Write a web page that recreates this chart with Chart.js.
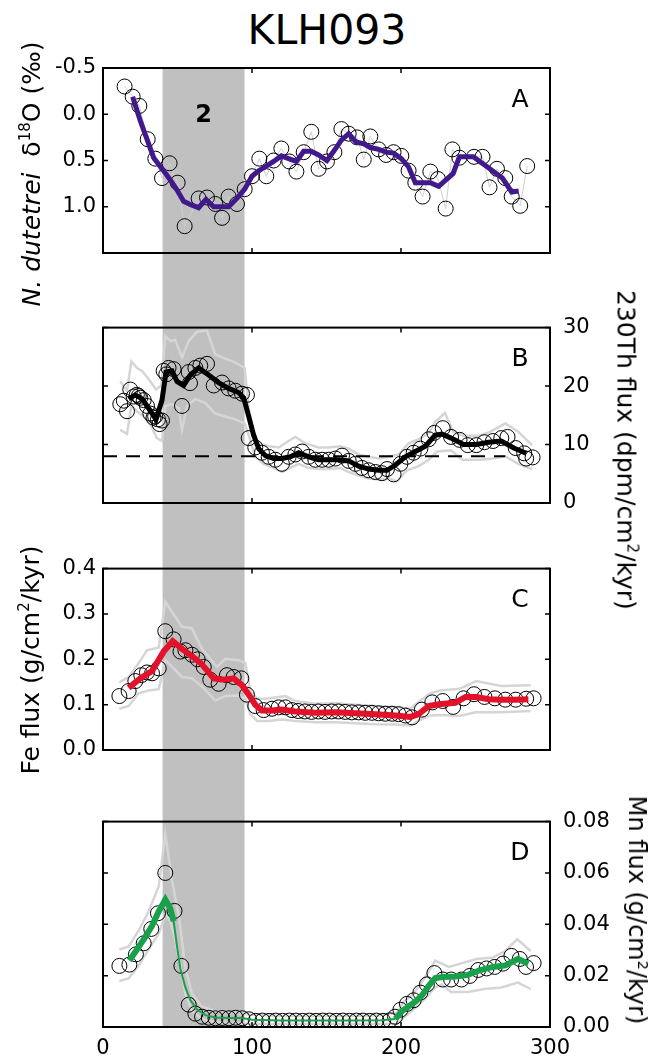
<!DOCTYPE html>
<html>
<head>
<meta charset="utf-8">
<script src="https://cdn.jsdelivr.net/npm/chart.js@4.4.1/dist/chart.umd.min.js"></script>
<style>
  body { margin: 0; background: #fff; }
  #fig { position: relative; width: 655px; height: 1059px; font-family: 'DejaVu Sans', sans-serif; color: #000; overflow: hidden; }
  #fig canvas { position: absolute; left: 0; }
  #title { position: absolute; left: 327px; top: 10px; transform: translateX(-50%); font-size: 41px; line-height: 1; white-space: nowrap; }
  .ylab { position: absolute; white-space: nowrap; font-size: 25px; line-height: 1; transform: translate(-50%, -50%) rotate(-90deg); }
  .ylab.right { transform: translate(-50%, -50%) rotate(90deg); }
  .ylab sup { font-size: 60%; line-height: 0; vertical-align: 0.65em; }
</style>
</head>
<body>
<div id="fig">
  <div id="title">KLH093</div>
  <canvas id="chartA" width="655" height="302" style="top:0"></canvas>
  <canvas id="chartB" width="655" height="247" style="top:302px"></canvas>
  <canvas id="chartC" width="655" height="247" style="top:549px"></canvas>
  <canvas id="chartD" width="655" height="263" style="top:796px"></canvas>
  <div class="ylab" style="left:31px;top:174px"><i>N. dutetrei</i>&nbsp; δ<sup>18</sup>O (‰)</div>
  <div class="ylab right" style="left:626px;top:450px">230Th flux (dpm/cm<sup>2</sup>/kyr)</div>
  <div class="ylab" style="left:30px;top:660px">Fe flux (g/cm<sup>2</sup>/kyr)</div>
  <div class="ylab right" style="left:637px;top:910px;font-size:24px">Mn flux (g/cm<sup>2</sup>/kyr)</div>
</div>
<script>
// age axis (kyr) shared by all panels
const xTicks = [0, 100, 200, 300];
const bandAge = [40, 95]; // shaded interval "2"

// A: N. dutetrei d18O
const aAge = [14.5, 19.9, 24.4, 30.0, 35.1, 39.6, 44.7, 50.1, 54.8, 64.2, 69.8, 75.4, 79.9, 84.3, 89.9, 95.1, 100, 104.9, 109.6, 114.5, 119.7, 125, 129.8, 134.7, 139.8, 144.7, 150.3, 155.3, 160, 164.9, 170.5, 175, 179.4, 185, 190, 195, 200.2, 205.1, 209.6, 214.5, 219.7, 224.8, 230, 234.5, 239.2, 249, 254.7, 259.4, 264.4, 270, 274.3, 280, 284.7];
const aD18O = [-0.30, -0.19, -0.09, 0.27, 0.48, 0.69, 0.53, 0.74, 1.21, 0.91, 0.90, 0.97, 1.12, 0.89, 0.97, 0.81, 0.67, 0.48, 0.67, 0.50, 0.37, 0.51, 0.62, 0.41, 0.19, 0.59, 0.51, 0.41, 0.16, 0.21, 0.25, 0.49, 0.24, 0.38, 0.44, 0.41, 0.45, 0.61, 0.74, 0.89, 0.62, 0.70, 1.02, 0.38, 0.47, 0.46, 0.46, 0.79, 0.59, 0.69, 0.89, 0.99, 0.56];
const aSmAge = [19.9, 25, 29.5, 34, 39.6, 45.2, 49.7, 54.1, 59.3, 64.2, 69.1, 74.3, 79.4, 84.3, 89.9, 95.1, 100, 104.5, 109.6, 114.5, 119.7, 124.6, 129.8, 134.7, 139.8, 144.7, 150.3, 155.3, 160, 164.9, 169.8, 175, 179.4, 185, 190, 195, 200.2, 205.1, 209.6, 214.5, 219.7, 225.3, 235, 239.2, 248.5, 258, 268, 274.3, 279];
const aSm = [-0.19, 0.07, 0.27, 0.47, 0.59, 0.71, 0.82, 0.94, 0.98, 1.01, 0.92, 1.0, 1.0, 1.0, 0.91, 0.81, 0.67, 0.61, 0.56, 0.51, 0.45, 0.48, 0.51, 0.40, 0.40, 0.44, 0.50, 0.39, 0.28, 0.21, 0.30, 0.32, 0.36, 0.38, 0.41, 0.42, 0.48, 0.57, 0.74, 0.74, 0.74, 0.78, 0.64, 0.46, 0.46, 0.57, 0.69, 0.84, 0.83];
const aTicks = [-0.5, 0, 0.5, 1.0];

// B: 230Th-normalised flux
const bAge = [11.6, 14, 16.1, 18.3, 20.6, 22.7, 24, 25, 27.3, 29.5, 31.8, 33.9, 35, 36.9, 38, 39.6, 40.7, 42.5, 44, 47.4, 53, 57.5, 58.4, 62, 65.3, 69.8, 74.3, 79.9, 84.3, 88.8, 93.3, 96.6, 97.8, 102.2, 106.7, 111.2, 115.7, 120.1, 124.6, 129.1, 133.6, 138, 142.5, 147, 151.5, 156, 160.4, 164.9, 169.4, 173.8, 178.3, 182.8, 187.2, 190.6, 195, 199.6, 204, 208.5, 213, 218.6, 222.4, 228, 233.6, 239.3, 244.8, 250.5, 256, 261.7, 267.3, 271.5, 277, 282.7, 284, 288.3];
const bFlux = [16.9, 17.5, 15.7, 19.4, 18.2, 18.5, 18.3, 18.0, 17.6, 16.6, 15.3, 14.6, 14.8, 14.3, 13.5, 14.1, 22.6, 22.0, 23.1, 22.9, 16.6, 22.4, 20.5, 23.1, 23.5, 23.8, 20.1, 20.6, 19.6, 19.2, 18.7, 18.5, 11.1, 9.5, 8.6, 7.9, 7.4, 6.7, 7.9, 8.3, 8.8, 7.9, 7.4, 7.4, 7.4, 7.6, 8.1, 7.2, 6.7, 6.0, 5.6, 5.3, 5.1, 5.8, 4.9, 6.7, 7.9, 8.6, 9.3, 10.9, 12.0, 12.8, 11.3, 10.8, 9.9, 9.9, 10.4, 10.6, 11.1, 11.3, 9.4, 8.5, 7.6, 7.8];
const bSmAge = [17.2, 21.7, 26.2, 30.6, 35.6, 39.6, 42.3, 46.3, 49.7, 54.1, 58.6, 64.2, 70.9, 77.6, 84.3, 91, 94.4, 97.8, 101.1, 104.5, 109, 114.5, 120.1, 125.7, 131.3, 138, 144.7, 151.5, 158.2, 164.9, 171.6, 178.3, 185, 190.6, 196.2, 202.9, 209.6, 216.3, 223, 227.5, 233.6, 242, 250.5, 258.9, 267.3, 275.7, 284];
const bSm = [17.8, 18.5, 17.8, 16.2, 14.3, 17.6, 22.4, 22.6, 20.8, 20.1, 21.9, 23.1, 21.9, 20.6, 19.6, 18.9, 18.0, 14.8, 11.6, 9.3, 8.1, 7.6, 7.6, 7.9, 8.6, 7.9, 7.4, 7.4, 7.4, 7.2, 6.3, 5.8, 5.6, 5.6, 6.5, 7.9, 8.8, 9.7, 11.6, 11.8, 11.1, 10.0, 10.0, 10.4, 10.6, 9.4, 8.5];
const bUpAge = [11.6, 16.1, 19, 22.8, 26.2, 30.6, 35.6, 39.1, 41.8, 45.2, 48.5, 53, 57.5, 63.1, 69.8, 75.4, 82.1, 88.8, 95.1, 97.8, 101.1, 104.5, 111.2, 117.9, 124.6, 129.1, 135.8, 144.7, 151.5, 159.3, 164.9, 171.6, 178.3, 185, 191.7, 198.4, 205.1, 211.9, 218.6, 223, 229.5, 235, 242, 253, 260, 270, 278.6, 288];
const bUp = [20.8, 19.2, 24.2, 23.1, 22.6, 21.2, 19.4, 20.1, 28.6, 27.7, 27.9, 24.9, 27.7, 29.3, 29.5, 25.4, 24.7, 24.0, 23.1, 16.2, 11.6, 10.2, 9.7, 9.5, 10.6, 11.3, 10.2, 9.5, 9.5, 9.7, 9.3, 8.3, 7.9, 7.6, 7.9, 8.3, 10.2, 10.9, 12.0, 13.9, 15.4, 12.2, 11.5, 11.5, 12.2, 13.6, 12.2, 9.9];
const bLoAge = [11.6, 16.1, 19, 22.8, 27.3, 31.8, 36.2, 39.6, 41.8, 46.3, 50.8, 53, 56.4, 62, 68.7, 75.4, 82.1, 88.8, 95.1, 97.8, 102.2, 107.8, 114.5, 120.1, 125.7, 131.3, 138, 144.7, 151.5, 159.3, 164.9, 171.6, 178.3, 185, 191.7, 197.3, 204, 211.9, 218.6, 224.2, 233.6, 241.2, 253, 261.7, 270, 278.6, 288];
const bLo = [12.5, 11.8, 16.6, 15.7, 14.8, 13.4, 11.1, 10.6, 16.6, 16.9, 16.2, 12.5, 16.6, 17.8, 17.1, 15.3, 14.8, 14.3, 13.6, 11.6, 7.9, 6.7, 6.0, 5.3, 6.0, 6.7, 6.0, 5.8, 5.8, 6.0, 5.3, 4.7, 4.2, 4.0, 4.2, 3.7, 5.6, 6.3, 7.4, 8.8, 9.0, 7.4, 7.4, 7.6, 8.0, 6.7, 5.8];
const bRefAge = [0, 270];
const bRef = [8, 8];
const bTicks = [0, 10, 20, 30];

// C: Fe flux
const cAge = [11, 17.2, 21.7, 25.7, 29.5, 32.9, 37.4, 41.8, 47.4, 52, 55.3, 59.7, 63.5, 67.6, 72, 77.6, 83.2, 87.7, 92.8, 96.6, 102.2, 107.8, 113.4, 117.9, 122.4, 126.8, 131, 135.5, 140, 144.5, 149, 153.5, 158, 162.5, 167, 171.5, 176, 180.5, 185, 189.5, 194, 198.4, 203, 207.5, 214, 221, 228, 235, 242, 249, 256, 263, 270, 277, 284, 289];
const cFe = [0.119, 0.130, 0.152, 0.165, 0.171, 0.169, 0.180, 0.262, 0.244, 0.217, 0.220, 0.210, 0.200, 0.183, 0.155, 0.146, 0.165, 0.161, 0.158, 0.122, 0.097, 0.088, 0.091, 0.094, 0.094, 0.088, 0.086, 0.085, 0.084, 0.085, 0.084, 0.085, 0.085, 0.084, 0.083, 0.083, 0.082, 0.082, 0.081, 0.080, 0.080, 0.079, 0.076, 0.072, 0.089, 0.105, 0.108, 0.095, 0.114, 0.123, 0.117, 0.114, 0.111, 0.111, 0.113, 0.114];
const cSmAge = [17.2, 25, 32.9, 40.7, 46.8, 53, 59.7, 66.4, 74.3, 81, 87.7, 93.3, 97.8, 102.2, 106.7, 113.4, 120.1, 129, 142.5, 156, 169.4, 182.8, 196.2, 206.3, 211.9, 218.6, 225.3, 236.4, 243.4, 250.5, 258.9, 267.3, 277, 285.5];
const cSm = [0.137, 0.158, 0.174, 0.217, 0.240, 0.223, 0.207, 0.189, 0.158, 0.155, 0.158, 0.143, 0.122, 0.100, 0.087, 0.087, 0.089, 0.085, 0.082, 0.083, 0.081, 0.079, 0.076, 0.073, 0.079, 0.097, 0.101, 0.104, 0.117, 0.117, 0.112, 0.111, 0.111, 0.112];
const cUpAge = [11, 17.2, 22.8, 29.5, 37.4, 41.8, 47.4, 53, 59.7, 66.4, 76.5, 82.1, 91, 95.5, 98.9, 103.4, 109, 115.7, 122.4, 129.1, 142.5, 156, 169.4, 182.8, 196.2, 206.3, 213, 219.7, 226.4, 239.3, 250.5, 267.3, 287];
const cUp = [0.149, 0.161, 0.186, 0.220, 0.226, 0.327, 0.299, 0.272, 0.268, 0.223, 0.183, 0.201, 0.198, 0.192, 0.131, 0.113, 0.113, 0.116, 0.119, 0.108, 0.102, 0.103, 0.100, 0.097, 0.095, 0.091, 0.109, 0.125, 0.131, 0.135, 0.152, 0.141, 0.143];
const cLoAge = [11, 17.2, 24, 30.6, 37.4, 41.8, 47.4, 53, 59.7, 66.4, 75.4, 82.1, 91, 95.5, 98.9, 103.4, 111.2, 120.1, 129.1, 142.5, 156, 169.4, 182.8, 196.2, 206.3, 213, 219.7, 228, 239, 250, 267, 287];
const cLo = [0.091, 0.097, 0.125, 0.131, 0.134, 0.198, 0.180, 0.161, 0.158, 0.140, 0.109, 0.119, 0.120, 0.113, 0.079, 0.064, 0.064, 0.067, 0.064, 0.061, 0.061, 0.059, 0.057, 0.056, 0.054, 0.067, 0.076, 0.077, 0.075, 0.083, 0.083, 0.086];
const cTicks = [0, 0.1, 0.2, 0.3, 0.4];

// D: Mn flux
const dAge = [11, 17.7, 22.1, 27.3, 32.4, 36.9, 41.8, 48, 52.6, 57.5, 62, 66.5, 71, 75.5, 80, 84.5, 89, 93.5, 98, 102.5, 107, 111.5, 116, 120.5, 125, 129.5, 134, 138.5, 143, 147.5, 152, 156.5, 161, 165.5, 170, 174.5, 179, 183.5, 188, 192.5, 196, 199.6, 204, 208.5, 213, 217.4, 222.4, 228, 233.6, 240.6, 246.2, 251.8, 257.4, 262.9, 268.5, 274.1, 279.7, 283.9, 289];
const dMn = [0.0238, 0.0243, 0.0283, 0.0326, 0.0382, 0.0443, 0.0600, 0.0452, 0.0238, 0.0087, 0.0052, 0.0040, 0.0036, 0.0034, 0.0035, 0.0034, 0.0036, 0.0034, 0.0030, 0.0024, 0.0025, 0.0024, 0.0025, 0.0024, 0.0025, 0.0025, 0.0024, 0.0025, 0.0024, 0.0025, 0.0025, 0.0024, 0.0025, 0.0024, 0.0025, 0.0025, 0.0024, 0.0025, 0.0024, 0.0026, 0.0040, 0.0067, 0.0090, 0.0104, 0.0134, 0.0166, 0.0210, 0.0185, 0.0185, 0.0185, 0.0199, 0.0222, 0.0228, 0.0234, 0.0247, 0.0277, 0.0265, 0.0234, 0.0249];
const dSmAge = [17.7, 22.8, 28.4, 32.9, 37.4, 41.8, 45.2, 47.4, 49.7, 51.9, 55.3, 58.6, 63.1, 68.7, 75.4, 84.3, 93.3, 100, 120, 142.5, 165, 187, 196.2, 200.7, 205.1, 209.6, 214, 218.6, 223, 228, 236.5, 244.9, 253.3, 261.7, 270.1, 278.5, 285.5];
const dSm = [0.0259, 0.0302, 0.0351, 0.0394, 0.0450, 0.0496, 0.0461, 0.0412, 0.0314, 0.0228, 0.0154, 0.0105, 0.0068, 0.0046, 0.0037, 0.0035, 0.0035, 0.0028, 0.0025, 0.0025, 0.0025, 0.0026, 0.0031, 0.0062, 0.0080, 0.0099, 0.0123, 0.0160, 0.0191, 0.0195, 0.0197, 0.0203, 0.0222, 0.0234, 0.0240, 0.0265, 0.0246];
const dUpAge = [11, 17.2, 24, 30.6, 37.4, 41.8, 46.3, 51.4, 55.3, 59.7, 66.4, 75.4, 88.8, 97.8, 120, 142.5, 165, 187, 197.3, 201.8, 207.4, 213, 218.6, 223, 232.2, 239.3, 250.5, 261.7, 270, 278, 287];
const dUp = [0.0302, 0.0314, 0.0376, 0.0450, 0.0548, 0.0751, 0.0572, 0.0412, 0.0228, 0.0129, 0.0080, 0.0062, 0.0056, 0.0049, 0.0043, 0.0043, 0.0043, 0.0046, 0.0056, 0.0099, 0.0123, 0.0166, 0.0216, 0.0259, 0.0234, 0.0246, 0.0265, 0.0271, 0.0296, 0.0342, 0.0296];
const dLoAge = [11, 17.2, 24, 30.6, 37.4, 41.8, 45.2, 48.5, 51.9, 55.3, 59.7, 66.4, 75.4, 97.8, 120, 142.5, 165, 187, 197.3, 203, 209.6, 216.3, 223, 227.5, 233.6, 244.9, 256, 267.3, 278.5, 287];
const dLo = [0.0179, 0.0189, 0.0240, 0.0302, 0.0363, 0.0437, 0.0412, 0.0339, 0.0240, 0.0129, 0.0062, 0.0031, 0.0019, 0.0012, 0.0012, 0.0012, 0.0012, 0.0012, 0.0012, 0.0043, 0.0074, 0.0111, 0.0154, 0.0166, 0.0136, 0.0136, 0.0148, 0.0154, 0.0173, 0.0148];
const dTicks = [0, 0.02, 0.04, 0.06, 0.08];

const FONT = "'DejaVu Sans', sans-serif";
const pts = (xs, ys) => xs.map((x, i) => ({ x, y: ys[i] }));

const smooth = (xs, ys, color, width) => ({ data: pts(xs, ys), borderColor: color, borderWidth: width, pointRadius: 0, order: 0 });
const circles = (xs, ys, line) => ({
  data: pts(xs, ys), showLine: !!line, borderColor: line || 'transparent', borderWidth: 1,
  pointRadius: 7.5, pointBorderWidth: 1, pointBorderColor: '#000', pointBackgroundColor: 'rgba(0,0,0,0)', order: 1
});
const envelope = (xs, ys) => ({ data: pts(xs, ys), borderColor: '#d5d5d5', borderWidth: 2.5, pointRadius: 0, order: 2 });

// shaded band, frame, inward ticks and panel letters
function panelDeco(p) {
  return {
    id: 'panelDeco',
    beforeDatasetsDraw(chart) {
      const { ctx, chartArea: a, scales: { x } } = chart;
      const x0 = x.getPixelForValue(bandAge[0]);
      const x1 = x.getPixelForValue(bandAge[1]);
      const y0 = p.bandFromArea ? a.top : 0;
      const y1 = p.bandToArea ? a.bottom : chart.height;
      ctx.save();
      ctx.fillStyle = '#c0c0c0';
      ctx.fillRect(x0, y0, x1 - x0, y1 - y0);
      ctx.restore();
    },
    afterDraw(chart) {
      const { ctx, chartArea: a, scales: { x, y } } = chart;
      ctx.save();
      ctx.strokeStyle = '#000';
      ctx.lineWidth = 1.5;
      ctx.beginPath();
      xTicks.slice(1, -1).forEach((v) => {
        const px = x.getPixelForValue(v);
        ctx.moveTo(px, a.top); ctx.lineTo(px, a.top + 5);
        ctx.moveTo(px, a.bottom); ctx.lineTo(px, a.bottom - 5);
      });
      p.yTicks.forEach((v) => {
        const py = y.getPixelForValue(v);
        ctx.moveTo(a.left, py); ctx.lineTo(a.left + 5, py);
        ctx.moveTo(a.right, py); ctx.lineTo(a.right - 5, py);
      });
      ctx.stroke();
      ctx.lineWidth = 2;
      ctx.strokeRect(a.left, a.top, a.right - a.left, a.bottom - a.top);
      ctx.fillStyle = '#000';
      ctx.textAlign = 'center';
      ctx.textBaseline = 'middle';
      ctx.font = `25px ${FONT}`;
      ctx.fillText(p.letter, a.right - 30, a.top + 32);
      if (p.note) {
        ctx.font = `bold 24px ${FONT}`;
        ctx.fillText(p.note, x.getPixelForValue((bandAge[0] + bandAge[1]) / 2), a.top + 48);
      }
      ctx.restore();
    }
  };
}

function makePanel(id, { datasets, padding, yMin, yMax, yTicks, yPos, reverse, digits, showX, deco }) {
  return new Chart(document.getElementById(id), {
    type: 'line',
    data: { datasets },
    options: {
      responsive: false,
      animation: false,
      events: [],
      layout: { padding },
      plugins: { legend: { display: false }, tooltip: { enabled: false } },
      scales: {
        x: {
          type: 'linear', min: 0, max: 300, display: !!showX,
          grid: { display: false, drawTicks: false }, border: { display: false },
          afterBuildTicks: (s) => { s.ticks = xTicks.map((value) => ({ value })); },
          afterFit: (s) => { s.height = 32; },
          ticks: { color: '#000', padding: 9, font: { family: FONT, size: 21 }, callback: (v) => String(v) }
        },
        y: {
          type: 'linear', min: yMin, max: yMax, reverse: !!reverse, position: yPos,
          grid: { display: false, drawTicks: false }, border: { display: false },
          afterBuildTicks: (s) => { s.ticks = yTicks.map((value) => ({ value })); },
          afterFit: (s) => { s.width = yPos === 'left' ? 103 : 105; },
          ticks: { color: '#000', padding: yPos === 'left' ? 7 : 13, font: { family: FONT, size: 21 }, callback: (v) => Number(v).toFixed(digits) }
        }
      }
    },
    plugins: [panelDeco(deco)]
  });
}

makePanel('chartA', {
  datasets: [smooth(aSmAge, aSm, '#41198c', 5), circles(aAge, aD18O, '#cfcfcf')],
  padding: { top: 68, bottom: 17, left: 0, right: 105 },
  yMin: -0.5, yMax: 1.5, yTicks: aTicks, yPos: 'left', reverse: true, digits: 1,
  deco: { letter: 'A', note: '2', yTicks: aTicks, bandFromArea: true }
});

makePanel('chartB', {
  datasets: [
    smooth(bSmAge, bSm, '#000', 5),
    { data: pts(bRefAge, bRef), borderColor: '#000', borderWidth: 2, borderDash: [14, 9], pointRadius: 0, order: 0 },
    circles(bAge, bFlux),
    envelope(bUpAge, bUp), envelope(bLoAge, bLo)
  ],
  padding: { top: 16, bottom: 14, left: 103, right: 0 },
  yMin: 0, yMax: 30, yTicks: bTicks, yPos: 'right', digits: 0,
  deco: { letter: 'B', yTicks: bTicks }
});

makePanel('chartC', {
  datasets: [smooth(cSmAge, cSm, '#e4112b', 6), circles(cAge, cFe), envelope(cUpAge, cUp), envelope(cLoAge, cLo)],
  padding: { top: 15, bottom: 14, left: 0, right: 105 },
  yMin: 0, yMax: 0.4, yTicks: cTicks, yPos: 'left', digits: 1,
  deco: { letter: 'C', yTicks: cTicks }
});

makePanel('chartD', {
  datasets: [
    {
      ...smooth(dSmAge, dSm, '#19a04a', 6),
      segment: { borderWidth: (c) => (c.p0.parsed.x >= 47 && c.p1.parsed.x <= 197 ? 2 : 6) }
    },
    circles(dAge, dMn), envelope(dUpAge, dUp), envelope(dLoAge, dLo)
  ],
  padding: { top: 14, bottom: 0, left: 103, right: 0 },
  yMin: 0, yMax: 0.08, yTicks: dTicks, yPos: 'right', digits: 2, showX: true,
  deco: { letter: 'D', yTicks: dTicks, bandToArea: true }
});
</script>
</body>
</html>
